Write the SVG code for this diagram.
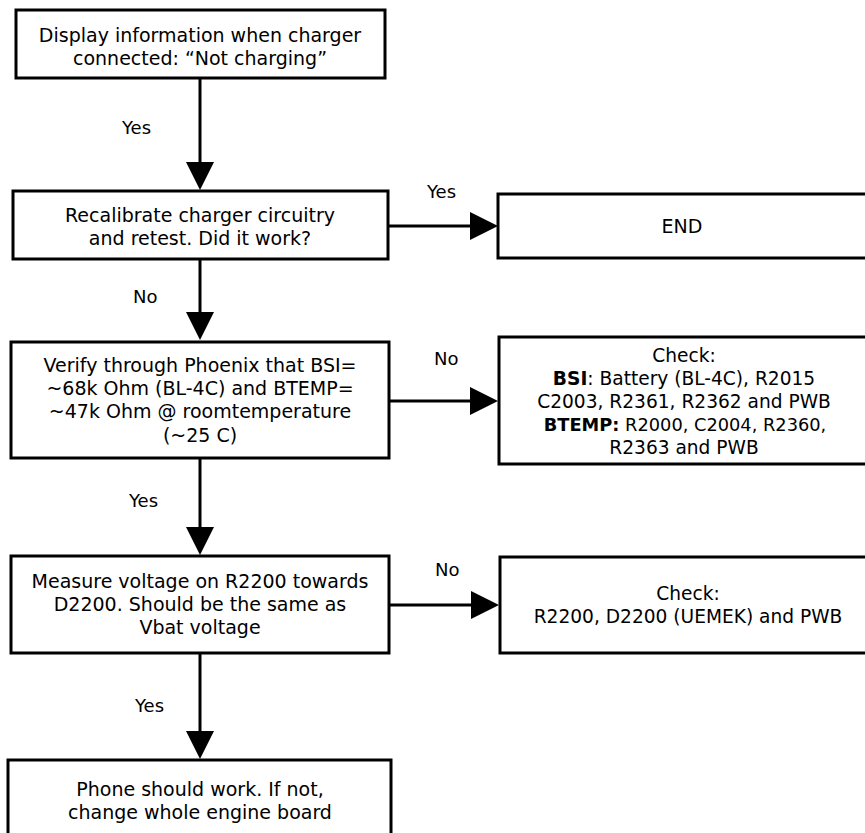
<svg xmlns="http://www.w3.org/2000/svg" width="865" height="833" viewBox="0 0 865 833">
  <style>
    .box { fill: #ffffff; stroke: #000000; stroke-width: 3; }
    .txt { font-family: "DejaVu Sans", "Noto Sans", "Liberation Sans", sans-serif; font-size: 19px; fill: #000000; text-anchor: middle; }
    .chk { font-size: 18.6px; }
    .lbl { font-family: "DejaVu Sans", "Noto Sans", "Liberation Sans", sans-serif; font-size: 18px; fill: #000000; text-anchor: start; }
    .b { font-weight: bold; }
    .conn { fill: none; stroke: #000000; stroke-width: 3; marker-end: url(#head); }
  </style>
  <defs>
    <marker id="head" markerUnits="userSpaceOnUse" markerWidth="28" markerHeight="28" refX="20" refY="14" orient="auto">
      <path d="M0,0 L28,14 L0,28 Z" fill="#000000"/>
    </marker>
  </defs>

  <rect width="865" height="833" fill="#ffffff"/>

  <!-- connectors -->
  <g id="connectors">
    <path class="conn" d="M200,78 V182"/>
    <path class="conn" d="M200,259 V332"/>
    <path class="conn" d="M200,458 V547"/>
    <path class="conn" d="M200,653 V751"/>
    <path class="conn" d="M388,226 H490"/>
    <path class="conn" d="M389,401 H490"/>
    <path class="conn" d="M389,605 H491"/>
    <text class="lbl" x="122" y="134">Yes</text>
    <text class="lbl" x="133" y="303">No</text>
    <text class="lbl" x="129" y="507">Yes</text>
    <text class="lbl" x="135" y="712">Yes</text>
    <text class="lbl" x="427" y="198">Yes</text>
    <text class="lbl" x="434" y="365">No</text>
    <text class="lbl" x="435" y="576">No</text>
  </g>

  <!-- process steps -->
  <g id="start">
    <rect class="box" x="16" y="10" width="369" height="68"/>
    <text class="txt" x="200" y="42">Display information when charger</text>
    <text class="txt" x="200" y="65">connected: “Not charging”</text>
  </g>

  <g id="recalibrate">
    <rect class="box" x="13" y="191" width="375" height="68"/>
    <text class="txt" x="200" y="222">Recalibrate charger circuitry</text>
    <text class="txt" x="200" y="245">and retest. Did it work?</text>
  </g>

  <g id="end">
    <rect class="box" x="498" y="194" width="370" height="64"/>
    <text class="txt" x="682" y="233">END</text>
  </g>

  <g id="verify">
    <rect class="box" x="11" y="342" width="378" height="116"/>
    <text class="txt" x="200" y="372">Verify through Phoenix that BSI=</text>
    <text class="txt" x="200" y="395">~68k Ohm (BL-4C) and BTEMP=</text>
    <text class="txt" x="200" y="418">~47k Ohm @ roomtemperature</text>
    <text class="txt" x="200" y="442">(~25 C)</text>
  </g>

  <g id="check-bsi-btemp">
    <rect class="box" x="499" y="337" width="370" height="127"/>
    <text class="txt chk" x="684" y="362">Check:</text>
    <text class="txt chk" x="684" y="385"><tspan class="b">BSI</tspan>: Battery (BL-4C), R2015</text>
    <text class="txt chk" x="684" y="408">C2003, R2361, R2362 and PWB</text>
    <text class="txt chk" x="685" y="431" style="font-size:17.8px"><tspan class="b">BTEMP:</tspan> R2000, C2004, R2360,</text>
    <text class="txt chk" x="684" y="454">R2363 and PWB</text>
  </g>

  <g id="measure">
    <rect class="box" x="11" y="556" width="378" height="97"/>
    <text class="txt" x="200" y="588">Measure voltage on R2200 towards</text>
    <text class="txt" x="200" y="611">D2200. Should be the same as</text>
    <text class="txt" x="200" y="634">Vbat voltage</text>
  </g>

  <g id="check-r2200">
    <rect class="box" x="500" y="557" width="370" height="96"/>
    <text class="txt chk" x="688" y="600">Check:</text>
    <text class="txt chk" x="688" y="623">R2200, D2200 (UEMEK) and PWB</text>
  </g>

  <g id="replace-board">
    <rect class="box" x="8" y="760" width="383" height="90"/>
    <text class="txt" x="200" y="796">Phone should work. If not,</text>
    <text class="txt" x="200" y="819">change whole engine board</text>
  </g>
</svg>
